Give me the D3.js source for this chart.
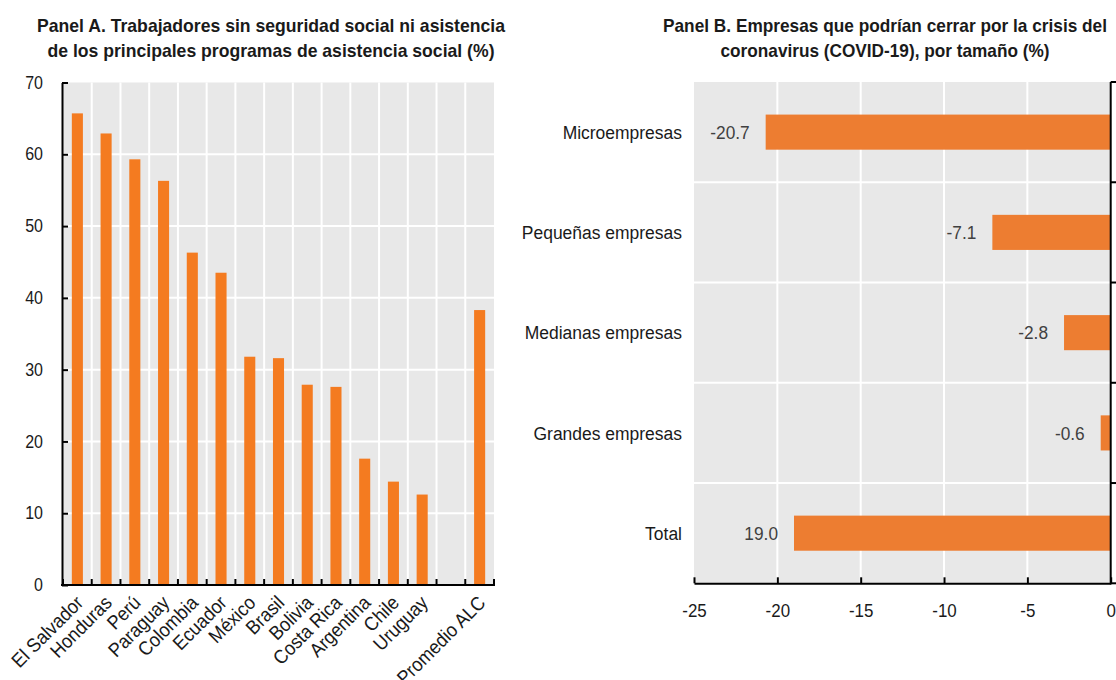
<!DOCTYPE html>
<html>
<head>
<meta charset="utf-8">
<script src="https://cdn.jsdelivr.net/npm/d3@7"></script>
<style>
  html, body { margin: 0; padding: 0; background: #fff; }
  svg { display: block; }
  text { font-family: "Liberation Sans", Arial, sans-serif; fill: #1a1a1a; }
</style>
</head>
<body>
<svg id="chart" width="1116" height="680"></svg>
<script>
// Panel A: workers without social security or main social assistance programmes (%)
const countries = ["El Salvador", "Honduras", "Perú", "Paraguay", "Colombia", "Ecuador", "México", "Brasil",
                   "Bolivia", "Costa Rica", "Argentina", "Chile", "Uruguay", "", "Promedio ALC"];
const shareUnprotected = [65.7, 62.9, 59.3, 56.3, 46.3, 43.5, 31.8, 31.6, 27.9, 27.6, 17.6, 14.4, 12.6, null, 38.3];
const yTicksA = [0, 10, 20, 30, 40, 50, 60, 70];

// Panel B: firms that could close because of COVID-19, by size (%)
const firmSizes = ["Microempresas", "Pequeñas empresas", "Medianas empresas", "Grandes empresas", "Total"];
const closureChange = [-20.7, -7.1, -2.8, -0.6, -19.0];
const closureLabels = ["-20.7", "-7.1", "-2.8", "-0.6", "19.0"];
const xTicksB = [-25, -20, -15, -10, -5, 0];

const titleA = ["Panel A. Trabajadores sin seguridad social ni asistencia",
                "de los principales programas de asistencia social (%)"];
const titleB = ["Panel B. Empresas que podrían cerrar por la crisis del",
                "coronavirus (COVID-19), por tamaño (%)"];

const FX = 0.91;              // horizontal squeeze giving a narrow face
const GRID = "#ffffff", PANEL_BG = "#e8e8e8", AXIS = "#000000";
const ORANGE_A = "#f47b20", ORANGE_B = "#ed7d31";
const plain = d => String(d);  // keep ASCII hyphen for negatives

const svg = d3.select("#chart");

// move x/y attributes into a transform so the glyphs can be squeezed
function squeeze(sel) {
  sel.each(function () {
    const t = d3.select(this);
    const x = +t.attr("x") || 0, y = +t.attr("y") || 0;
    t.attr("x", null).attr("y", null)
     .attr("transform", `translate(${x},${y}) scale(${FX},1)`);
  });
}

function drawTitle(lines, cx, widths) {
  const g = svg.append("g");
  lines.forEach((s, i) => {
    g.append("text")
      .attr("x", cx).attr("y", 31.5 + i * 25)
      .attr("text-anchor", "middle")
      .attr("font-weight", "bold")
      .attr("font-size", 18.6)
      .attr("textLength", widths[i])
      .attr("lengthAdjust", "spacingAndGlyphs")
      .text(s);
  });
}

// ---------------- Panel A ----------------
const A = { left: 63, right: 494, top: 82.5, bottom: 585 };
const xA = d3.scaleBand().domain(countries).range([A.left, A.right]);
const yA = d3.scaleLinear().domain([0, 70]).range([A.bottom, A.top]);
const gA = svg.append("g");

gA.append("rect")
  .attr("x", A.left).attr("y", A.top)
  .attr("width", A.right - A.left).attr("height", A.bottom - A.top)
  .attr("fill", PANEL_BG);

gA.selectAll("line.hgrid")
  .data(yTicksA.filter(v => v > 0 && v < 70))
  .join("line").attr("class", "hgrid")
  .attr("x1", A.left).attr("x2", A.right)
  .attr("y1", d => yA(d)).attr("y2", d => yA(d))
  .attr("stroke", GRID).attr("stroke-width", 2);

const bandEdgesA = countries.map(c => xA(c)).concat([A.right]);
gA.selectAll("line.vgrid")
  .data(bandEdgesA.slice(1, -1))
  .join("line").attr("class", "vgrid")
  .attr("x1", d => d).attr("x2", d => d)
  .attr("y1", A.top).attr("y2", A.bottom)
  .attr("stroke", GRID).attr("stroke-width", 2);

const barWA = xA.bandwidth() * 0.385;
const rowsA = countries.map((c, i) => ({ c, v: shareUnprotected[i] })).filter(d => d.v != null);
gA.selectAll("rect.bar")
  .data(rowsA)
  .join("rect").attr("class", "bar")
  .attr("x", d => xA(d.c) + xA.bandwidth() / 2 - barWA / 2)
  .attr("width", barWA)
  .attr("y", d => yA(d.v))
  .attr("height", d => yA(0) - yA(d.v))
  .attr("fill", ORANGE_A);

// y axis with inward ticks
const axisA = d3.axisLeft(yA).tickValues(yTicksA)
  .tickSizeInner(-6).tickSizeOuter(0).tickPadding(19)
  .tickFormat(plain);
const gAy = gA.append("g").attr("transform", `translate(${A.left - 1},0)`).call(axisA);
gAy.select(".domain").attr("stroke", AXIS).attr("stroke-width", 2);
gAy.selectAll(".tick line").attr("stroke", AXIS).attr("stroke-width", 2);
gAy.selectAll(".tick text").style("font-size", "17.6px").style("fill", "#1a1a1a").call(squeeze);

// x axis: baseline plus ticks at the band edges
gA.append("line")
  .attr("x1", A.left - 2).attr("x2", A.right + 1)
  .attr("y1", A.bottom).attr("y2", A.bottom)
  .attr("stroke", AXIS).attr("stroke-width", 2);
gA.selectAll("line.xtick")
  .data(bandEdgesA)
  .join("line").attr("class", "xtick")
  .attr("x1", d => d).attr("x2", d => d)
  .attr("y1", A.bottom).attr("y2", A.bottom - 6)
  .attr("stroke", AXIS).attr("stroke-width", 2);

// rotated category labels, slightly condensed along the text direction
gA.selectAll("text.xlab")
  .data(countries.filter(c => c !== ""))
  .join("text").attr("class", "xlab")
  .attr("text-anchor", "end")
  .style("font-size", "19.5px")
  .attr("transform", d => `translate(${xA(d) + xA.bandwidth() / 2 + 7},${A.bottom + 19}) rotate(-45) scale(0.92,1)`)
  .text(d => d);

drawTitle(titleA, 271, [468, 447]);

// ---------------- Panel B ----------------
const B = { left: 694, right: 1110.7, top: 82, bottom: 583.3 };
const xB = d3.scaleLinear().domain([-25, 0]).range([B.left, B.right]);
const yB = d3.scaleBand().domain(firmSizes).range([B.top, B.bottom]);
const gB = svg.append("g");

gB.append("rect")
  .attr("x", B.left).attr("y", B.top)
  .attr("width", B.right - B.left).attr("height", B.bottom - B.top)
  .attr("fill", PANEL_BG);

gB.selectAll("line.vgrid")
  .data(xTicksB.filter(v => v > -25 && v < 0))
  .join("line").attr("class", "vgrid")
  .attr("x1", d => xB(d)).attr("x2", d => xB(d))
  .attr("y1", B.top).attr("y2", B.bottom)
  .attr("stroke", GRID).attr("stroke-width", 2);

const bandEdgesB = firmSizes.map(c => yB(c)).concat([B.bottom]);
gB.selectAll("line.hgrid")
  .data(bandEdgesB.slice(1, -1))
  .join("line").attr("class", "hgrid")
  .attr("x1", B.left).attr("x2", B.right)
  .attr("y1", d => d).attr("y2", d => d)
  .attr("stroke", GRID).attr("stroke-width", 2);

const barHB = yB.bandwidth() * 0.35;
const rowsB = firmSizes.map((c, i) => ({ c, v: closureChange[i], label: closureLabels[i] }));
gB.selectAll("rect.bar")
  .data(rowsB)
  .join("rect").attr("class", "bar")
  .attr("x", d => xB(Math.min(0, d.v)))
  .attr("width", d => Math.abs(xB(d.v) - xB(0)))
  .attr("y", d => yB(d.c) + yB.bandwidth() / 2 - barHB / 2)
  .attr("height", barHB)
  .attr("fill", ORANGE_B);

gB.selectAll("text.val")
  .data(rowsB)
  .join("text").attr("class", "val")
  .attr("x", d => xB(d.v) - 16)
  .attr("y", d => yB(d.c) + yB.bandwidth() / 2)
  .attr("dy", "0.35em")
  .attr("text-anchor", "end")
  .style("font-size", "19px")
  .style("fill", "#404040")
  .text(d => d.label)
  .call(squeeze);

gB.selectAll("text.cat")
  .data(firmSizes)
  .join("text").attr("class", "cat")
  .attr("x", 682)
  .attr("y", d => yB(d) + yB.bandwidth() / 2)
  .attr("dy", "0.35em")
  .attr("text-anchor", "end")
  .style("font-size", "19.2px")
  .text(d => d)
  .call(squeeze);

// right-hand axis at zero with outward ticks on the band edges
gB.append("line")
  .attr("x1", B.right).attr("x2", B.right)
  .attr("y1", B.top).attr("y2", B.bottom + 1)
  .attr("stroke", AXIS).attr("stroke-width", 2);
gB.selectAll("line.ytick")
  .data(bandEdgesB)
  .join("line").attr("class", "ytick")
  .attr("x1", B.right).attr("x2", B.right + 7)
  .attr("y1", d => d).attr("y2", d => d)
  .attr("stroke", AXIS).attr("stroke-width", 2);

// bottom value axis with inward ticks
const axisB = d3.axisBottom(xB).tickValues(xTicksB)
  .tickSizeInner(-6).tickSizeOuter(0).tickPadding(20)
  .tickFormat(plain);
const gBx = gB.append("g").attr("transform", `translate(0,${B.bottom})`).call(axisB);
gBx.select(".domain").attr("stroke", AXIS).attr("stroke-width", 2);
gBx.selectAll(".tick line").attr("stroke", AXIS).attr("stroke-width", 2);
gBx.selectAll(".tick text").style("font-size", "18.6px").style("fill", "#1a1a1a").call(squeeze);

drawTitle(titleB, 885, [444, 329]);
</script>
</body>
</html>
